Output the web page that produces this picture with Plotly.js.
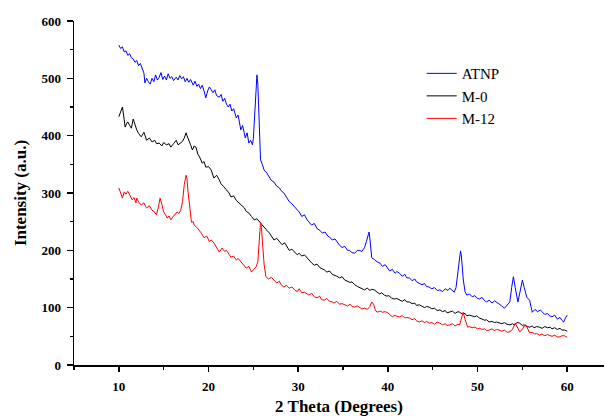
<!DOCTYPE html>
<html>
<head>
<meta charset="utf-8">
<script src="https://cdn.plot.ly/plotly-3.0.1.min.js"></script>
<style>html,body{margin:0;padding:0;background:#fff;}#chart{width:605px;height:416px;}</style>
</head>
<body>
<div id="chart"></div>
<script>
// ATNP (blue)
const atnpX = [10.0,10.2,10.4,10.6,10.8,11.0,11.2,11.4,11.6,11.8,12.0,12.2,12.4,12.6,12.8,12.9,13.1,13.3,13.5,13.7,13.9,14.1,14.3,14.5,14.7,14.9,15.1,15.3,15.5,15.7,15.9,16.1,16.4,16.6,16.8,17.0,17.2,17.4,17.6,17.8,18.0,18.3,18.5,18.7,18.9,19.1,19.3,19.5,19.7,19.9,20.1,20.3,20.5,20.7,20.9,21.2,21.4,21.6,21.8,22.0,22.2,22.4,22.6,22.8,23.1,23.3,23.6,23.8,24.1,24.3,24.5,24.7,24.9,25.0,25.15,25.3,25.4,25.5,25.6,25.8,26.0,26.2,26.5,26.8,27.0,27.3,27.6,27.9,28.1,28.4,28.7,29.0,29.3,29.6,29.9,30.1,30.4,30.7,31.0,31.2,31.5,31.8,32.1,32.4,32.7,33.0,33.3,33.5,33.8,34.1,34.4,34.6,34.9,35.2,35.5,35.7,36.0,36.3,36.6,36.8,37.1,37.4,37.6,37.8,37.9,38.0,38.2,38.5,38.8,39.1,39.4,39.7,40.0,40.2,40.5,40.8,41.0,41.3,41.6,41.9,42.1,42.4,42.7,43.0,43.2,43.5,43.8,44.1,44.3,44.6,44.9,45.2,45.5,45.8,46.1,46.4,46.7,46.9,47.2,47.4,47.6,47.8,48.0,48.1,48.2,48.4,48.6,48.8,49.1,49.4,49.7,49.9,50.2,50.5,50.8,51.0,51.3,51.6,51.9,52.1,52.4,52.7,53.0,53.3,53.6,53.8,54.0,54.2,54.4,54.5,54.7,54.9,55.0,55.2,55.5,55.8,56.1,56.4,56.7,57.0,57.2,57.5,57.8,58.0,58.3,58.6,58.9,59.2,59.4,59.6,59.8,60.0];
const atnpY = [558,552,555,546,548,540,543,536,534,528,531,522,526,518,509,492,500,494,490,500,494,506,497,502,510,498,504,497,508,500,503,496,502,497,505,499,503,494,500,493,498,488,495,486,490,482,488,478,466,478,485,480,475,480,470,467,472,460,465,455,450,455,443,447,431,436,410,418,396,405,387,392,384,395,440,495,506,490,430,358,350,340,335,328,322,319,312,309,304,300,292,285,281,276,270,267,259,262,253,249,244,247,238,235,230,232,225,223,218,220,212,209,205,207,200,200,196,195,200,200,198,205,215,230,232,220,187,184,180,178,172,175,167,164,167,160,163,160,155,158,152,152,147,150,145,143,140,142,137,136,133,135,130,131,128,133,130,134,129,127,135,160,195,199,190,150,128,122,124,119,121,117,115,118,112,110,113,108,112,110,106,103,99,105,110,135,154,135,112,110,125,145,148,135,118,113,92,97,93,96,92,88,90,86,84,87,80,83,78,75,82,87];

// M-0 (black)
const m0X = [10.0,10.2,10.4,10.6,10.7,10.9,11.0,11.2,11.4,11.6,11.8,12.0,12.2,12.5,12.8,13.1,13.4,13.7,14.0,14.2,14.5,14.8,15.0,15.3,15.6,15.8,16.1,16.4,16.6,16.9,17.1,17.3,17.5,17.6,17.8,18.0,18.2,18.4,18.6,18.8,19.0,19.3,19.5,19.7,20.0,20.3,20.6,20.9,21.2,21.4,21.7,22.0,22.3,22.5,22.8,23.1,23.4,23.7,24.0,24.2,24.5,24.8,25.1,25.4,25.7,26.0,26.2,26.5,26.8,27.0,27.3,27.6,27.9,28.2,28.5,28.8,29.0,29.3,29.6,29.9,30.1,30.4,30.7,31.0,31.2,31.5,31.8,32.1,32.4,32.7,32.9,33.2,33.5,33.8,34.0,34.3,34.6,34.9,35.2,35.5,35.8,36.0,36.3,36.6,36.9,37.1,37.4,37.7,38.0,38.2,38.5,38.8,39.1,39.3,39.6,39.9,40.1,40.4,40.7,41.0,41.3,41.6,41.9,42.1,42.4,42.7,43.0,43.2,43.5,43.8,44.1,44.3,44.6,44.9,45.2,45.5,45.8,46.1,46.4,46.6,46.9,47.2,47.5,47.8,48.0,48.3,48.6,48.8,49.1,49.4,49.7,49.9,50.2,50.5,50.8,51.0,51.3,51.6,51.9,52.1,52.4,52.7,53.0,53.3,53.6,53.9,54.1,54.4,54.7,55.0,55.2,55.5,55.8,56.1,56.3,56.6,56.9,57.2,57.5,57.8,58.1,58.3,58.6,58.9,59.2,59.4,59.7,60.0];
const m0Y = [433,440,450,428,415,422,424,418,413,429,418,410,404,398,406,392,396,389,392,386,387,382,388,384,386,380,386,392,384,387,390,396,405,400,390,384,375,382,380,368,363,352,355,345,346,340,326,331,323,316,311,305,300,293,295,287,283,278,274,268,265,259,253,255,249,243,239,235,230,226,218,221,215,210,213,205,200,202,197,192,195,190,192,186,183,178,174,176,170,168,166,162,164,158,157,155,152,154,148,146,144,145,140,137,135,133,131,134,130,132,131,127,124,126,122,120,121,117,115,116,113,111,114,110,110,107,108,104,105,103,100,102,101,98,99,95,96,93,95,91,92,94,90,93,92,89,90,86,87,85,84,86,82,80,78,79,75,76,74,75,73,72,74,71,70,72,70,74,73,69,70,67,66,68,65,67,66,64,67,65,66,63,65,62,64,61,61,59];

// M-12 (red)
const m12X = [10.0,10.2,10.4,10.6,10.8,11.0,11.1,11.3,11.5,11.7,11.9,12.0,12.2,12.5,12.8,13.0,13.1,13.4,13.7,13.9,14.2,14.4,14.6,14.8,15.0,15.2,15.4,15.6,15.8,16.0,16.2,16.5,16.7,16.9,17.1,17.3,17.5,17.6,17.7,17.9,18.1,18.3,18.4,18.7,19.0,19.2,19.5,19.8,20.1,20.3,20.6,20.9,21.2,21.5,21.8,22.0,22.3,22.5,22.8,23.1,23.3,23.6,23.9,24.2,24.5,24.8,25.0,25.3,25.5,25.65,25.8,25.9,26.0,26.2,26.4,26.7,27.0,27.3,27.6,27.9,28.1,28.4,28.7,29.0,29.3,29.6,29.9,30.1,30.4,30.7,31.0,31.2,31.5,31.8,32.1,32.4,32.6,32.9,33.2,33.5,33.8,34.0,34.3,34.6,34.9,35.2,35.5,35.8,36.0,36.3,36.6,36.9,37.1,37.4,37.7,38.0,38.2,38.4,38.6,38.8,39.1,39.4,39.7,40.0,40.2,40.5,40.8,41.0,41.3,41.6,41.9,42.1,42.4,42.7,43.0,43.2,43.5,43.8,44.1,44.3,44.6,44.9,45.2,45.5,45.8,46.1,46.4,46.6,46.9,47.2,47.5,47.8,48.0,48.2,48.4,48.6,48.9,49.1,49.4,49.7,50.0,50.2,50.5,50.8,51.0,51.3,51.6,51.9,52.1,52.4,52.7,53.0,53.3,53.6,53.9,54.2,54.4,54.7,55.0,55.2,55.4,55.6,55.8,56.1,56.4,56.6,56.9,57.2,57.5,57.8,58.1,58.3,58.6,58.9,59.2,59.4,59.7,60.0];
const m12Y = [309,300,291,302,298,303,300,294,288,292,283,291,284,279,283,276,274,278,270,268,262,275,291,280,267,262,256,260,253,258,262,267,264,270,285,315,331,325,305,270,249,250,244,240,235,230,222,225,215,218,213,205,197,204,198,200,192,188,190,183,186,180,174,169,172,162,166,171,180,225,249,240,213,175,154,150,153,148,143,146,140,136,139,134,136,131,128,133,126,127,124,122,125,119,117,120,114,113,116,111,110,108,111,106,107,105,103,106,102,101,103,100,98,99,97,102,110,106,96,92,94,92,93,91,88,84,87,85,84,86,82,83,82,79,81,77,75,77,74,76,73,74,71,75,73,70,72,69,70,72,68,71,70,80,92,80,66,67,65,66,63,64,62,63,60,61,63,60,62,61,59,61,57,58,62,73,66,58,62,68,70,62,56,57,54,55,52,54,51,53,51,50,52,49,49,51,51,48];

const seriesNames = ['ATNP', 'M-0', 'M-12'];
const seriesColors = ['#0000ff', '#000000', '#ff0000'];
const xTickVals = [10, 20, 30, 40, 50, 60];
const yTickVals = [0, 100, 200, 300, 400, 500, 600];

const xs = [atnpX, m0X, m12X];
const ys = [atnpY, m0Y, m12Y];
const traces = xs.map((x, i) => ({
  x: x, y: ys[i], type: 'scatter', mode: 'lines', name: seriesNames[i],
  line: {color: seriesColors[i], width: 1}
}));

const tickFont = {family: 'Liberation Serif', size: 13, color: '#000', weight: 'bold'};
const layout = {
  width: 605, height: 416,
  margin: {l: 74, r: 1, t: 21, b: 51},
  paper_bgcolor: '#fff', plot_bgcolor: '#fff',
  showlegend: true,
  legend: {x: 0.656, y: 0.895, xanchor: 'left', yanchor: 'top', bgcolor: 'rgba(0,0,0,0)',
    font: {family: 'Liberation Serif', size: 15, color: '#000'}, tracegroupgap: 0},
  xaxis: {
    range: [5, 64.1], showgrid: false, zeroline: false, showline: true, linecolor: '#000', linewidth: 1.5,
    tickmode: 'array', tickvals: xTickVals, ticktext: xTickVals.map(String),
    ticks: 'outside', ticklen: 5, tickwidth: 1.5, tickcolor: '#000',
    minor: {tickvals: [5, 15, 25, 35, 45, 55], ticks: 'outside', ticklen: 3, tickwidth: 1.5, tickcolor: '#000', showgrid: false},
    tickfont: tickFont, ticklabelstandoff: 4,
    title: {text: '2 Theta (Degrees)', font: {family: 'Liberation Serif', size: 17, color: '#000', weight: 'bold'}, standoff: 8}
  },
  yaxis: {
    range: [0, 600], showgrid: false, zeroline: false, showline: true, linecolor: '#000', linewidth: 1.5,
    tickmode: 'array', tickvals: yTickVals, ticktext: yTickVals.map(String),
    ticks: 'outside', ticklen: 6, tickwidth: 1.5, tickcolor: '#000',
    minor: {tickvals: [50, 150, 250, 350, 450, 550], ticks: 'outside', ticklen: 3, tickwidth: 1.5, tickcolor: '#000', showgrid: false},
    tickfont: tickFont, ticklabelstandoff: 3,
    title: {text: 'Intensity (a.u.)', font: {family: 'Liberation Serif', size: 17, color: '#000', weight: 'bold'}, standoff: 10}
  }
};

Plotly.newPlot('chart', traces, layout, {displayModeBar: false, staticPlot: true});
</script>
</body>
</html>
